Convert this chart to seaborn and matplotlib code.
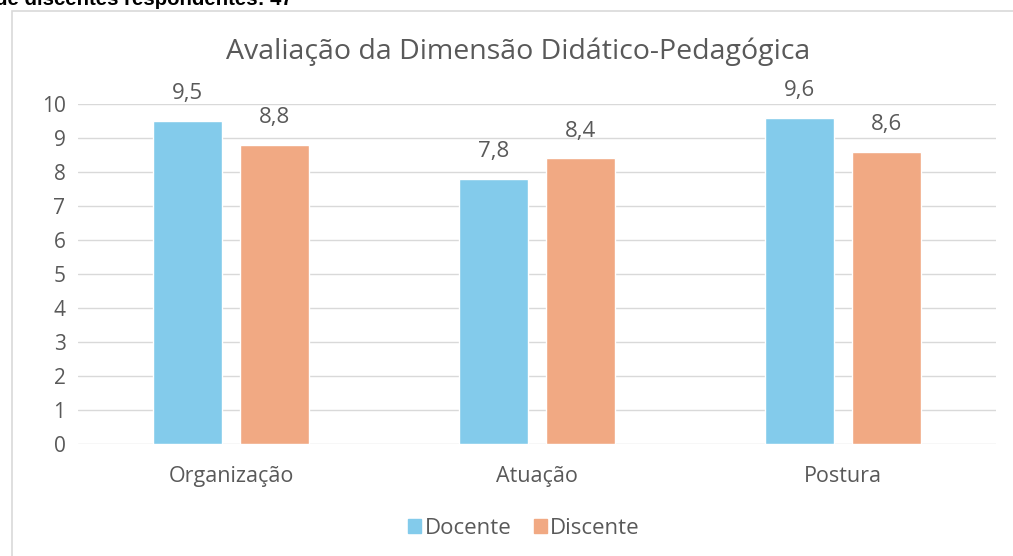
import matplotlib
matplotlib.use("Agg")
import matplotlib.pyplot as plt
import matplotlib.patches as mpatches
import pandas as pd
import seaborn as sns

categorias = ["Organização", "Atuação", "Postura"]
docente = [9.5, 7.8, 9.6]
discente = [8.8, 8.4, 8.6]
series = ["Docente", "Discente"]
cores = ["#83CBEB", "#F1A983"]
titulo = "Avaliação da Dimensão Didático-Pedagógica"
cabecalho = "de discentes respondentes: 47"

df = pd.DataFrame({
    "Categoria": categorias * 2,
    "Grupo": ["Docente"] * 3 + ["Discente"] * 3,
    "Nota": docente + discente,
})

sns.set_style("white")
plt.rcParams["font.family"] = ["Open Sans", "DejaVu Sans"]
W, H = 1013, 556
fig = plt.figure(figsize=(W / 100, H / 100), dpi=100)

# moldura do grafico (so topo e esquerda aparecem) e texto cortado no topo
top = 1 - 11 / H
fig.patches.append(mpatches.Rectangle((12 / W, -0.5), 1.2, top + 0.5, transform=fig.transFigure,
                                      fill=False, edgecolor="#D9D9D9", linewidth=1.2))
fig.text(-5 / W, 1 - 5 / H, cabecalho, fontsize=14.7, fontweight="bold",
         family="Liberation Sans", va="baseline", ha="left", color="black")

ax = fig.add_axes([78 / W, 1 - 444 / H, 918 / W, 340 / H])
sns.barplot(data=df, x="Categoria", y="Nota", hue="Grupo", hue_order=series,
            palette=cores, width=0.569, gap=0.207, ax=ax, saturation=1)

ax.set_ylim(0, 10)
ax.set_xlim(-0.5, 2.5)
ax.set_yticks(range(0, 11))
ax.yaxis.grid(True, color="#D9D9D9", linewidth=1)
ax.set_axisbelow(True)
for s in ax.spines.values():
    s.set_visible(False)
ax.set_xlabel("")
ax.set_ylabel("")
ax.tick_params(axis="y", length=0, pad=9, labelsize=15, labelcolor="#595959")
ax.tick_params(axis="x", length=0, pad=16, labelsize=15.5, labelcolor="#595959")

for cont in ax.containers:
    ax.bar_label(cont, labels=[f"{v:.1f}".replace(".", ",") for v in cont.datavalues],
                 padding=12, fontsize=16, color="#595959")

# titulo centrado na moldura, nao nos eixos
fig.text(518 / W, 1 - 52 / H, titulo, fontsize=20.5, color="#595959", ha="center", va="center")

ax.legend_.remove()
handles = [mpatches.Patch(color=c, label=s) for c, s in zip(cores, series)]
fig.legend(handles=handles, loc="center", bbox_to_anchor=(524 / W, 1 - 528 / H), ncol=2,
           frameon=False, fontsize=16, handlelength=0.6, handleheight=0.6,
           handletextpad=0.15, columnspacing=1.0, labelcolor="#595959")

fig.savefig("out.png", dpi=100)
